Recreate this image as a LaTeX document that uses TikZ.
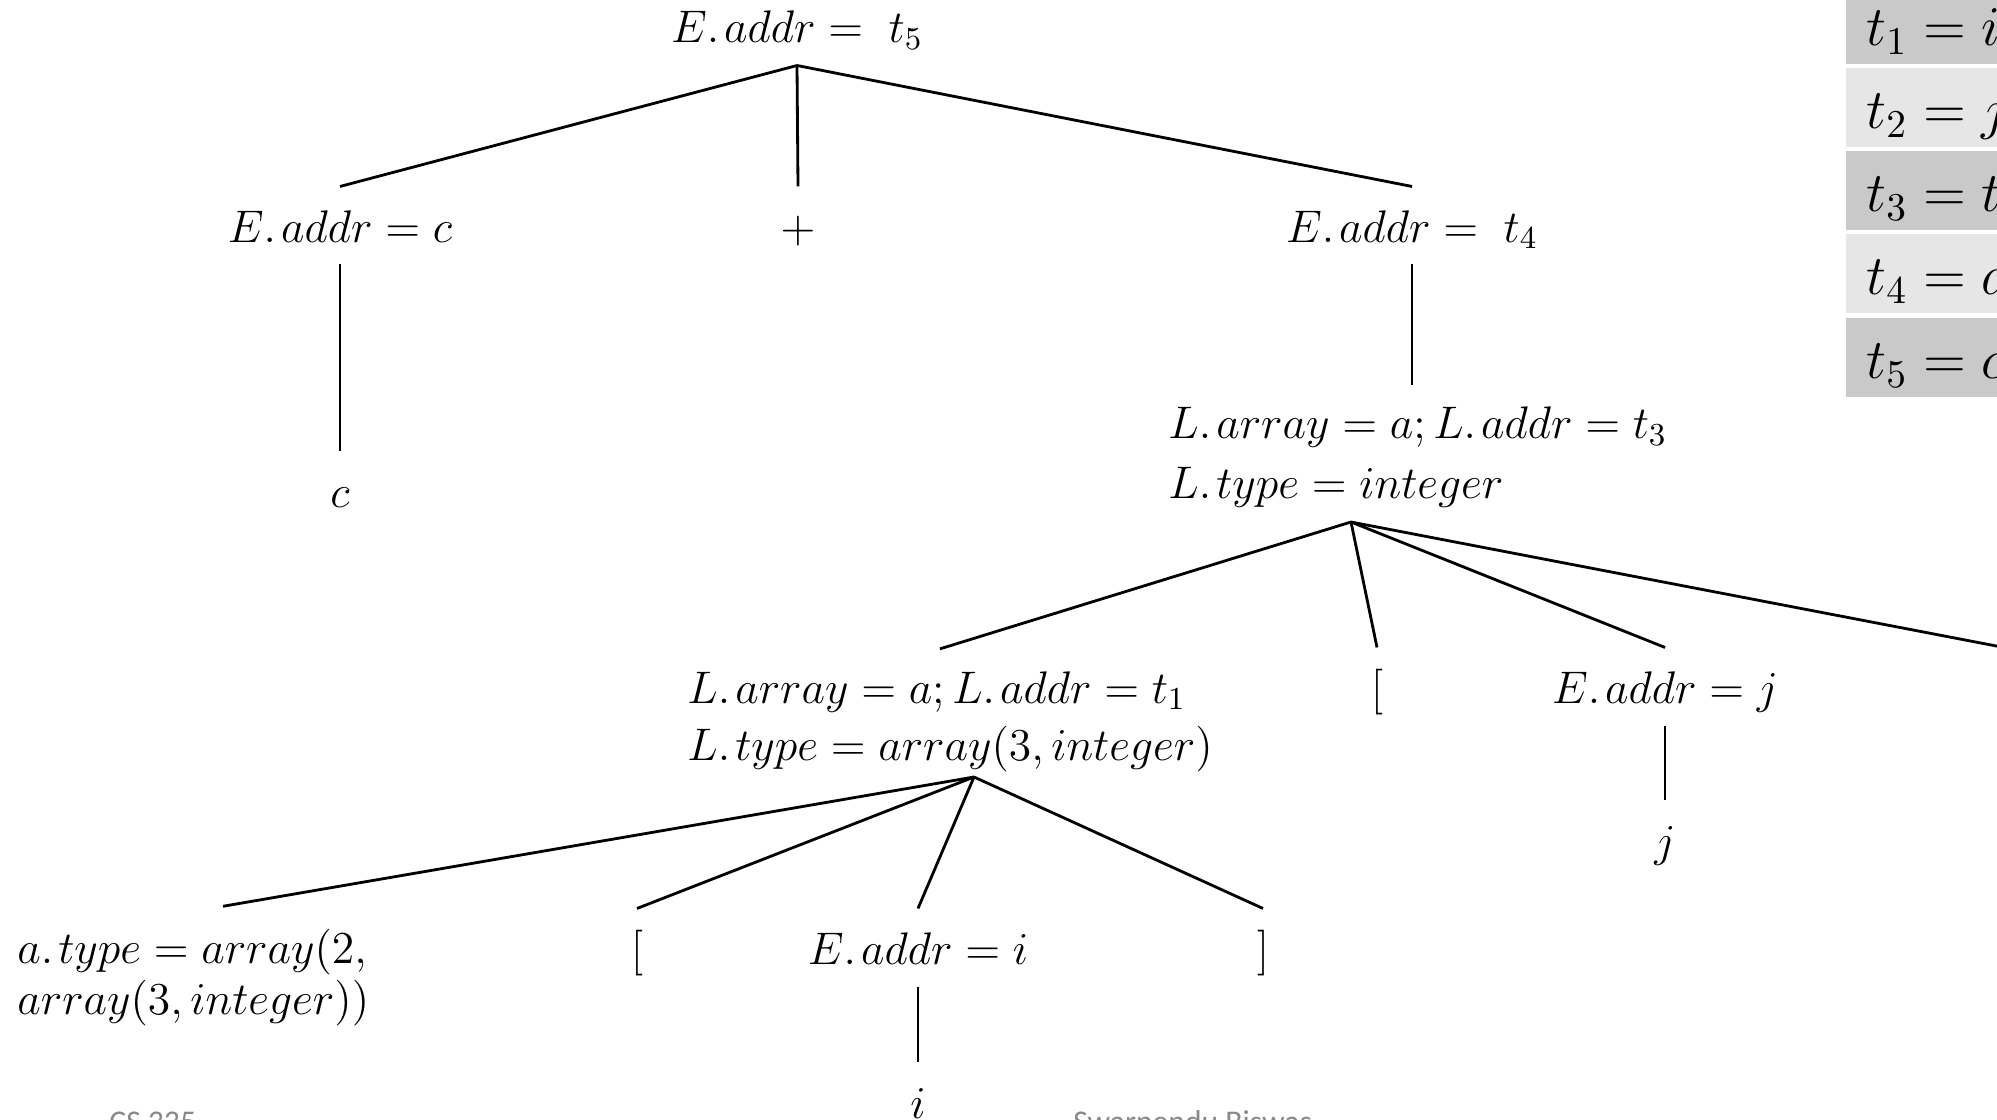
\RequirePackage{fix-cm}
\documentclass[tikz,border=0pt]{standalone}
\usepackage{amsmath}
\usepackage{amssymb}
\usepackage{xcolor}
\usepackage{fontspec}
\newfontfamily\footfont{Carlito}
\definecolor{celldark}{RGB}{201,201,201}
\definecolor{celllight}{RGB}{230,230,230}
\definecolor{footgray}{RGB}{137,137,137}

\begin{document}
\begin{tikzpicture}[
  thick,  attr/.style={font=\fontsize{13}{15.6}\selectfont,inner xsep=0pt,inner ysep=6pt,text height=9.4pt,text depth=0pt,anchor=base},  attrml/.style={font=\fontsize{13}{15.6}\selectfont,inner xsep=0pt,inner ysep=6pt,align=left,anchor=base west},  cell/.style={font=\fontsize{16}{19}\selectfont,anchor=west,minimum height=0.79cm,text width=2.6cm,inner xsep=0.2cm,inner ysep=0pt,text height=12pt,text depth=0pt,align=left},  foot/.style={font=\footfont\fontsize{9}{11}\selectfont,text=footgray,inner sep=0pt,anchor=base west}
]
  \useasboundingbox (0,0) rectangle (19.97,-11.20);
  % three-address code
  \node[cell,fill=celldark] (r1) at (18.45,-0.245) {$t_1 = i$};
  \node[cell,fill=celllight] (r2) at (18.45,-1.075) {$t_2 = j$};
  \node[cell,fill=celldark] (r3) at (18.45,-1.905) {$t_3 = t$};
  \node[cell,fill=celllight] (r4) at (18.45,-2.735) {$t_4 = a$};
  \node[cell,fill=celldark] (r5) at (18.45,-3.575) {$t_5 = c$};
  % annotated parse tree
  \node[attr] (t5) at (7.97,-0.43) {$E.\mkern2mu addr = \;t_5$};
  \node[attr] (ec) at (3.40,-2.42) {$E.\mkern2mu addr = c$};
  \node[attr] (plus) at (7.98,-2.42) {$+$};
  \node[attr] (t4) at (14.12,-2.42) {$E.\mkern2mu addr = \;t_4$};
  \node[attr] (c) at (3.40,-5.07) {$c$};
  \node[attrml] (l3) at (11.67,-4.98) {$L.\mkern2mu array = a; L.\mkern2mu addr = t_3$\\[1.2pt] $L.\mkern2mu type = integer$};
  \node[attrml] (l2) at (6.86,-7.60) {$L.\mkern2mu array = a; L.\mkern2mu addr = t_1$\\[0.6pt] $L.\mkern2mu type = array(3, integer)$};
  \node[attr] (lb1) at (13.77,-7.03) {$[$};
  \node[attr] (ej) at (16.65,-7.03) {$E.\mkern2mu addr = j$};
  \node[attr] (rb1) at (20.04,-7.03) {$]$};
  \node[attr] (j) at (16.65,-8.56) {$j$};
  \node[attrml] (atype) at (0.16,-10.14) {$a.\mkern2mu type = array(2,$\\[-1.1pt] $array(3, integer))$};
  \node[attr] (lb2) at (6.37,-9.64) {$[$};
  \node[attr] (ei) at (9.18,-9.64) {$E.\mkern2mu addr = i$};
  \node[attr] (rb2) at (12.63,-9.64) {$]$};
  \node[attr] (i) at (9.18,-11.18) {$i$};
  % footer
  \node[foot] (course) at (1.08,-11.32) {CS 335};
  \node[foot] (author) at (10.72,-11.32) {Swarnendu Biswas};
  % edges
  \draw (t5.south) -- (ec.north);
  \draw (t5.south) -- (plus.north);
  \draw (t5.south) -- (t4.north);
  \draw (ec.south) -- (c.north);
  \draw (t4.south) -- (t4.south |- l3.north);
  \coordinate (l3r) at ([shift={(1.84,-0.24)}]l3.base west);
  \draw (l3r) -- ([xshift=2.54cm]l2.north west);
  \draw (l3r) -- (lb1.north);
  \draw (l3r) -- (ej.north);
  \draw (l3r) -- (rb1.north);
  \draw (ej.south) -- (j.north);
  \coordinate (l2r) at ([shift={(2.88,-0.17)}]l2.base west);
  \draw (l2r) -- ([xshift=2.07cm]atype.north west);
  \draw (l2r) -- (lb2.north);
  \draw (l2r) -- (ei.north);
  \draw (l2r) -- (rb2.north);
  \draw (ei.south) -- (i.north);
\end{tikzpicture}
\end{document}
